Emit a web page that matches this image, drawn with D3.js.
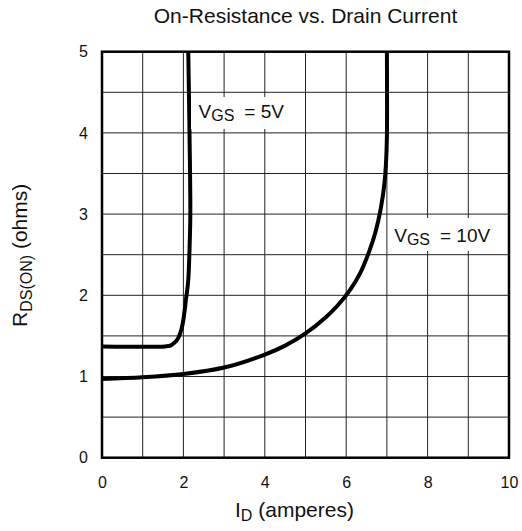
<!DOCTYPE html>
<html><head><meta charset="utf-8">
<script src="https://cdn.jsdelivr.net/npm/d3@7"></script>
<style>body{margin:0;background:#fff;} text{font-family:"Liberation Sans",Arial,sans-serif;fill:#111;}</style>
</head><body>
<svg id="c" width="522" height="531"></svg>
<script>
const xTicks = [0, 2, 4, 6, 8, 10];
const yTicks = [0, 1, 2, 3, 4, 5];
const vgs5I = [0, 1.55, 1.68, 1.79, 1.87, 1.92, 1.97, 2.0, 2.04, 2.06, 2.09, 2.12, 2.15, 2.17, 2.15, 2.12];
const vgs5R = [1.37, 1.37, 1.38, 1.42, 1.47, 1.53, 1.62, 1.70, 1.85, 1.94, 2.05, 2.19, 2.56, 3.0, 4.0, 5.0];
const vgs10I = [0, 1, 2, 3, 4, 4.5, 5, 5.5, 5.8, 6.1, 6.35, 6.55, 6.72, 6.85, 6.94, 6.98, 7.0, 7.0];
const vgs10R = [0.97, 0.99, 1.03, 1.11, 1.27, 1.38, 1.53, 1.73, 1.88, 2.07, 2.28, 2.52, 2.78, 3.07, 3.38, 3.65, 3.95, 5.0];

const svg = d3.select("#c");
const L = 102, R = 509, T = 51.7, B = 457.7;
const x = d3.scaleLinear().domain([0, 10]).range([L, R]);
const y = d3.scaleLinear().domain([0, 5]).range([B, T]);

// grid
const g = svg.append("g");
g.selectAll(".vx").data(d3.range(1, 10)).enter().append("line")
  .attr("x1", d => x(d)).attr("x2", d => x(d)).attr("y1", T).attr("y2", B)
  .attr("stroke", "#222").attr("stroke-width", 1);
g.selectAll(".hy").data(d3.range(1, 10).map(i => i * 0.5)).enter().append("line")
  .attr("x1", L).attr("x2", R).attr("y1", d => y(d)).attr("y2", d => y(d))
  .attr("stroke", "#222").attr("stroke-width", 1);

// curves
const line = d3.line().x(d => x(d[0])).y(d => y(d[1])).curve(d3.curveCatmullRom.alpha(0.5));
svg.append("clipPath").attr("id", "clp").append("rect")
  .attr("x", L).attr("y", T).attr("width", R - L).attr("height", B - T);
const curves = [d3.zip(vgs5I, vgs5R), d3.zip(vgs10I, vgs10R)];
svg.append("g").attr("clip-path", "url(#clp)").selectAll("path").data(curves).enter().append("path")
  .attr("d", line).attr("fill", "none").attr("stroke", "#000").attr("stroke-width", 4)
  .attr("stroke-linejoin", "round");

// labels with white background
function label(bx, by, bw, bh, tx, ty, rest) {
  svg.append("rect").attr("x", bx).attr("y", by).attr("width", bw).attr("height", bh).attr("fill", "#fff");
  const t = svg.append("text").attr("x", tx).attr("y", ty).attr("font-size", 19);
  t.append("tspan").text("V");
  t.append("tspan").attr("font-size", 16).attr("dy", 3).text("GS");
  t.append("tspan").attr("dy", -3).attr("dx", 10).text(rest);
}
label(191, 97, 100, 32, 198.5, 118.3, "= 5V");
label(388, 218, 117, 33, 394.2, 242.3, "= 10V");

// frame
svg.append("rect").attr("x", L).attr("y", T).attr("width", R - L).attr("height", B - T)
  .attr("fill", "none").attr("stroke", "#000").attr("stroke-width", 2.5);

// axes
const xa = svg.append("g").attr("transform", `translate(0,${B})`)
  .call(d3.axisBottom(x).tickValues(xTicks).tickSize(0).tickPadding(19).tickFormat(d3.format("d")));
const ya = svg.append("g").attr("transform", `translate(${L},0)`)
  .call(d3.axisLeft(y).tickValues(yTicks).tickSize(0).tickPadding(14).tickFormat(d3.format("d")));
[xa, ya].forEach(a => {
  a.select(".domain").remove();
  a.selectAll("text").attr("font-size", 16).attr("font-family", "Liberation Sans, Arial, sans-serif").attr("fill", "#111");
});

// titles
svg.append("text").attr("x", (L + R) / 2).attr("y", 23).attr("text-anchor", "middle").attr("font-size", 21)
  .text("On-Resistance vs. Drain Current");
const xt = svg.append("text").attr("x", 235).attr("y", 516.5).attr("font-size", 21);
xt.append("tspan").text("I");
xt.append("tspan").attr("font-size", 16).attr("dy", 4).text("D");
xt.append("tspan").attr("dy", -4).text(" (amperes)");
const yt = svg.append("text").attr("transform", `translate(27,327) rotate(-90)`)
  .attr("font-size", 21);
yt.append("tspan").text("R");
yt.append("tspan").attr("font-size", 16).attr("dy", 5).text("DS(ON)");
yt.append("tspan").attr("dy", -5).text(" (ohms)");
</script>
</body></html>
